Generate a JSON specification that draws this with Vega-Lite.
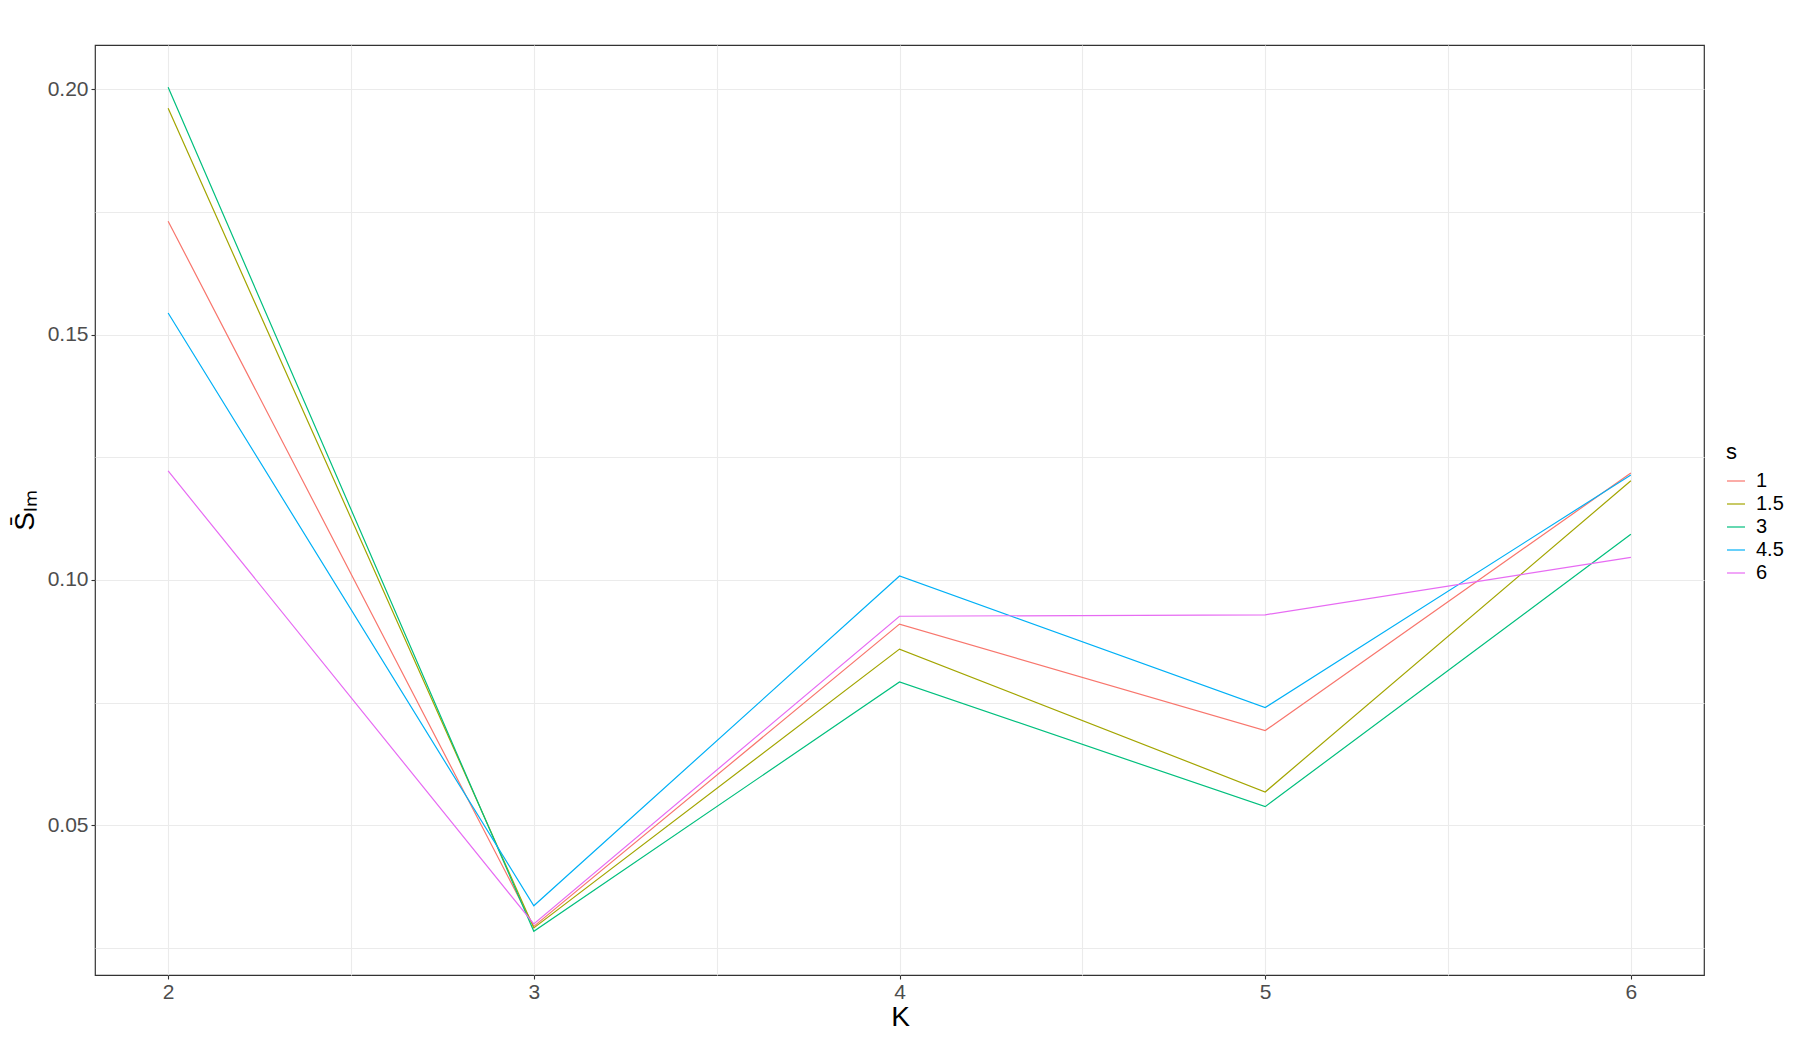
{
  "$schema": "https://vega.github.io/schema/vega-lite/v6.json",
  "width": 1609,
  "height": 930,
  "autosize": {"type": "none"},
  "padding": {"left": 95, "top": 45, "right": 96, "bottom": 64},
  "background": "white",
  "config": {
    "font": "Liberation Sans",
    "view": {"stroke": "#333333", "strokeWidth": 1.2},
    "axis": {
      "domain": false,
      "gridColor": "#EBEBEB",
      "gridWidth": 1.1,
      "tickColor": "#333333",
      "tickSize": 4,
      "tickWidth": 1.1,
      "labelColor": "#4D4D4D",
      "labelFont": "Liberation Sans",
      "labelFontSize": 21,
      "titleFont": "Liberation Sans",
      "titleFontWeight": "normal",
      "titleColor": "#000000"
    }
  },
  "data": {
    "values": [
      {"K": 2, "s": "1", "v": 0.1731},
      {"K": 3, "s": "1", "v": 0.0294},
      {"K": 4, "s": "1", "v": 0.0910},
      {"K": 5, "s": "1", "v": 0.0693},
      {"K": 6, "s": "1", "v": 0.1218},
      {"K": 2, "s": "1.5", "v": 0.1961},
      {"K": 3, "s": "1.5", "v": 0.0291},
      {"K": 4, "s": "1.5", "v": 0.0859},
      {"K": 5, "s": "1.5", "v": 0.0568},
      {"K": 6, "s": "1.5", "v": 0.1202},
      {"K": 2, "s": "3", "v": 0.2004},
      {"K": 3, "s": "3", "v": 0.0284},
      {"K": 4, "s": "3", "v": 0.0792},
      {"K": 5, "s": "3", "v": 0.0538},
      {"K": 6, "s": "3", "v": 0.1093},
      {"K": 2, "s": "4.5", "v": 0.1544},
      {"K": 3, "s": "4.5", "v": 0.0336},
      {"K": 4, "s": "4.5", "v": 0.1008},
      {"K": 5, "s": "4.5", "v": 0.0740},
      {"K": 6, "s": "4.5", "v": 0.1214},
      {"K": 2, "s": "6", "v": 0.1222},
      {"K": 3, "s": "6", "v": 0.0299},
      {"K": 4, "s": "6", "v": 0.0926},
      {"K": 5, "s": "6", "v": 0.0929},
      {"K": 6, "s": "6", "v": 0.1046}
    ]
  },
  "mark": {"type": "line", "strokeWidth": 1.2, "clip": true},
  "encoding": {
    "x": {
      "field": "K",
      "type": "quantitative",
      "scale": {"domain": [1.8, 6.2], "nice": false, "zero": false},
      "axis": {
        "title": "K",
        "titleFontSize": 28,
        "titleX": 805,
        "titleY": 50,
        "titleBaseline": "alphabetic",
        "values": [2, 2.5, 3, 3.5, 4, 4.5, 5, 5.5, 6],
        "labelExpr": "datum.value % 1 == 0 ? format(datum.value, 'd') : ''",
        "tickOpacity": {"condition": {"test": "datum.value % 1 != 0", "value": 0}, "value": 1},
        "labelPadding": 2,
        "labelFlush": false,
        "labelOverlap": false
      }
    },
    "y": {
      "field": "v",
      "type": "quantitative",
      "scale": {"domain": [0.0195, 0.209], "nice": false, "zero": false},
      "axis": {
        "title": "S̄ₗₘ",
        "titleFontSize": 28,
        "titleX": -62,
        "titleY": 465,
        "titleAlign": "center",
        "titleBaseline": "alphabetic",
        "titleAngle": -90,
        "values": [0.025, 0.05, 0.075, 0.1, 0.125, 0.15, 0.175, 0.2],
        "labelExpr": "abs(datum.value * 20 - round(datum.value * 20)) < 0.01 ? format(datum.value, '.2f') : ''",
        "tickOpacity": {"condition": {"test": "abs(datum.value * 20 - round(datum.value * 20)) > 0.01", "value": 0}, "value": 1},
        "labelPadding": 3,
        "labelFlush": false,
        "labelOverlap": false
      }
    },
    "color": {
      "field": "s",
      "type": "nominal",
      "scale": {
        "domain": ["1", "1.5", "3", "4.5", "6"],
        "range": ["#F8766D", "#A3A500", "#00BF7D", "#00B0F6", "#E76BF3"]
      },
      "legend": {
        "title": "s",
        "orient": "none",
        "legendX": 1631,
        "legendY": 397,
        "padding": 0,
        "titleFontSize": 22,
        "titleFont": "Liberation Sans",
        "titleFontWeight": "normal",
        "titleColor": "#000000",
        "titleBaseline": "top",
        "titlePadding": 7,
        "labelFontSize": 20,
        "labelFont": "Liberation Sans",
        "labelColor": "#000000",
        "labelOffset": 10,
        "symbolType": "stroke",
        "symbolSize": 324,
        "symbolStrokeWidth": 1.2,
        "rowPadding": 3
      }
    }
  }
}
